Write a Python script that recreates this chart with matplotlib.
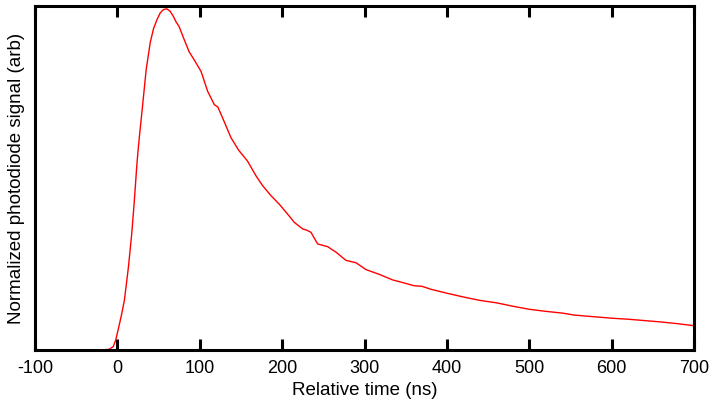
#!/usr/bin/env python3
"""Normalized photodiode signal vs. relative time (gnuplot-style trace)."""

import matplotlib
matplotlib.use("Agg")
import matplotlib.pyplot as plt

plt.rcParams["font.family"] = ["Liberation Sans", "DejaVu Sans"]
plt.rcParams["axes.unicode_minus"] = False

# ─── Data ───────────────────────────────────────────────────────────────────
time_ns = [-100, -80, -60, -40, -20, -10, -5, -2, 1, 4.5, 8.5, 13.4, 17.4,
           20.6, 23.4, 25, 27, 30, 35, 40, 44, 48, 52, 56, 60, 64, 68, 71,
           75, 79, 87, 94, 101.6, 109.6, 117.7, 122, 127.8, 138, 147.2, 158,
           168.3, 176.4, 186.5, 196.6, 206.7, 214.8, 224.9, 230, 235, 243.1,
           255.3, 265.4, 277.5, 289.7, 301.8, 318, 334, 345, 360, 370, 380,
           400, 420, 440, 460, 480, 500, 520, 540, 555, 570, 600, 620, 640,
           660, 680, 700]
signal = [0.0, 0.0, 0.0, 0.0, 0.0, 0.002, 0.01, 0.029, 0.06, 0.097, 0.145,
          0.242, 0.339, 0.436, 0.533, 0.58, 0.63, 0.70, 0.82, 0.90, 0.94,
          0.965, 0.985, 0.995, 0.997, 0.99, 0.975, 0.96, 0.945, 0.92, 0.872,
          0.845, 0.814, 0.756, 0.717, 0.71, 0.678, 0.620, 0.584, 0.552,
          0.509, 0.480, 0.451, 0.426, 0.397, 0.373, 0.354, 0.350, 0.344,
          0.310, 0.302, 0.286, 0.262, 0.255, 0.235, 0.221, 0.205, 0.198,
          0.188, 0.186, 0.178, 0.166, 0.155, 0.145, 0.138, 0.128, 0.119,
          0.113, 0.108, 0.102, 0.099, 0.093, 0.090, 0.086, 0.082, 0.077,
          0.071]

x_ticks = [-100, 0, 100, 200, 300, 400, 500, 600, 700]

# ─── Figure ─────────────────────────────────────────────────────────────────
fig = plt.figure(figsize=(7.23, 4.07), dpi=100)
ax = fig.add_axes([0.0484, 0.140, 0.9115, 0.845])

ax.plot(time_ns, signal, color="#ff0000", linewidth=1.0)

ax.set_xlim(-100, 700)
ax.set_ylim(0, 1.005)
ax.set_xticks(x_ticks)
ax.set_yticks([])

ax.tick_params(axis="x", direction="in", length=8, width=2.2,
               top=True, labelsize=13, pad=7)
for side in ax.spines.values():
    side.set_linewidth(2.2)

ax.set_xlabel("Relative time (ns)", fontsize=13.5, labelpad=4)
ax.set_ylabel("Normalized photodiode signal (arb)", fontsize=13.5, labelpad=7)

fig.savefig("out.png", dpi=100)
plt.close(fig)
